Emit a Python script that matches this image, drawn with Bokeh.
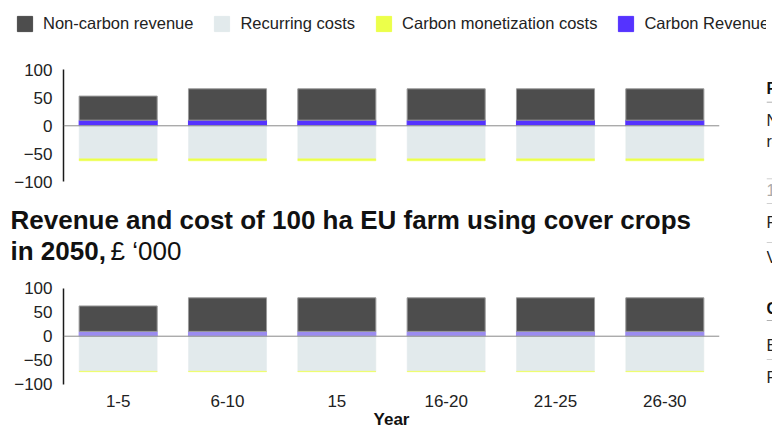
from bokeh.plotting import figure
from bokeh.models import (ColumnDataSource, FactorRange, Range1d, FixedTicker, Span,
                          Legend, LegendItem)
from bokeh.layouts import column, row
from bokeh.embed import file_html
from bokeh.resources import INLINE
from bokeh.core.properties import value

# ---------------- data ----------------
years = ["1-5", "6-10", "15", "16-20", "21-25", "26-30"]
series_names = ["Non-carbon revenue", "Recurring costs", "Carbon monetization costs", "Carbon Revenue"]

# upper chart, £ '000
top_noncarbon = [43, 56, 56, 56, 56, 56]
top_carbon_rev = [10, 10, 10, 10, 10, 10]
top_recurring = [-59, -59, -59, -59, -59, -59]
top_carbon_mon = [-3.5, -3.5, -3.5, -3.5, -3.5, -3.5]

# lower chart (2050), £ '000
bot_noncarbon = [53, 70, 70, 70, 70, 70]
bot_carbon_rev = [10, 10, 10, 10, 10, 10]
bot_recurring = [-73, -73, -73, -73, -73, -73]
bot_carbon_mon = [-1, -1, -1, -1, -1, -1]

y_ticks = [-100, -50, 0, 50, 100]
title_line1 = "Revenue and cost of 100 ha EU farm using cover crops"
title_line2_bold = "in 2050,"
title_unit = "£ ‘000"
x_title = "Year"

# side table (cut off by the page edge)
table_headers = ["Financials", "Carbon"]
table_rows = ["Non-carbon", "revenue", "Fertiliser", "Variable", "EU ETS", "Fees"]
table_note = ["100 ha farm"]

# ---------------- style ----------------
FONT = "Liberation Sans"
C_NONCARBON = "#4d4d4d"
C_RECUR = "#e2eaec"
C_MON_TOP = "#ecff4a"
C_REV_TOP = "#5533ff"
C_MON_BOT = "#eeff55"
C_REV_BOT = "#9b8cf0"
W_MAIN = 766
BAR_W = 0.714


def no_align(p):
    if "frame_align" in p.properties():
        p.frame_align = False


def blank_fig(width, height):
    p = figure(width=width, height=height, x_range=Range1d(0, width), y_range=Range1d(height, 0),
               x_axis_location=None, y_axis_location=None, output_backend="svg",
               toolbar_location=None, min_border_left=0, min_border_right=0,
               min_border_top=0, min_border_bottom=0, outline_line_color=None,
               background_fill_color="white", border_fill_color="white")
    p.xgrid.grid_line_color = None
    p.ygrid.grid_line_color = None
    no_align(p)
    return p


def make_chart(height, y_start, y_end, top_border, bottom_border, show_x):
    p = figure(width=W_MAIN, height=height,
               x_range=FactorRange(factors=years), y_range=Range1d(y_start, y_end),
               x_axis_location="below" if show_x else None, y_axis_location="left",
               output_backend="svg", toolbar_location=None,
               min_border_left=63, min_border_right=47, min_border_top=top_border,
               min_border_bottom=bottom_border, outline_line_color=None,
               background_fill_color="white", border_fill_color="white")
    p.xgrid.grid_line_color = None
    p.ygrid.grid_line_color = None
    ax = p.yaxis[0]
    ax.ticker = FixedTicker(ticks=y_ticks)
    ax.bounds = (-100, 100)
    ax.major_tick_line_color = None
    ax.minor_tick_line_color = None
    ax.major_tick_out = 0
    ax.major_tick_in = 0
    ax.axis_line_color = "#1a1a1a"
    ax.axis_line_width = 1.5
    ax.major_label_text_font = FONT
    ax.major_label_text_font_size = "17px"
    ax.major_label_text_color = "#222222"
    ax.major_label_standoff = 11
    if show_x:
        xa = p.xaxis[0]
        xa.axis_line_color = None
        xa.major_tick_line_color = None
        xa.minor_tick_line_color = None
        xa.major_tick_out = 0
        xa.major_tick_in = 0
        xa.major_label_text_font = FONT
        xa.major_label_text_font_size = "17px"
        xa.major_label_text_color = "#222222"
        xa.major_label_standoff = 10
        xa.axis_label = x_title
        xa.axis_label_text_font = FONT
        xa.axis_label_text_font_size = "17px"
        xa.axis_label_text_font_style = "bold"
        xa.axis_label_text_color = "#111111"
        xa.axis_label_standoff = 0
    return p


def add_bars(p, noncarbon, carbon_rev, recurring, carbon_mon, c_rev, c_mon):
    src = ColumnDataSource(dict(year=years, noncarbon=noncarbon, carbon_rev=carbon_rev,
                                recurring=recurring, carbon_mon=carbon_mon))
    p.vbar_stack(["carbon_rev", "noncarbon"], x="year", width=BAR_W, source=src,
                 fill_color=[c_rev, C_NONCARBON], line_color=[c_rev, "#9a9a9a"], line_width=1)
    p.vbar_stack(["recurring", "carbon_mon"], x="year", width=BAR_W, source=src,
                 fill_color=[C_RECUR, c_mon], line_color=[C_RECUR, c_mon], line_width=0.5)
    p.add_layout(Span(location=0, dimension="width", line_color="#8a8a8a", line_width=1))


# ---------------- legend strip ----------------
pL = blank_fig(W_MAIN, 50)
legend_colors = [C_NONCARBON, C_RECUR, C_MON_TOP, C_REV_TOP]
items = []
for name, col in zip(series_names, legend_colors):
    # legend-only renderer: a single undefined (NaN) bar that is never drawn
    r = pL.vbar(x=[float("nan")], top=[float("nan")], width=1, fill_color=col, line_color=col)
    items.append(LegendItem(label=name, renderers=[r]))
pL.add_layout(Legend(items=items, orientation="horizontal", location=(15, 17),
                     glyph_width=19, glyph_height=19, label_standoff=9, spacing=19,
                     padding=0, margin=0, border_line_color=None, background_fill_alpha=0,
                     label_text_font=FONT, label_text_font_size="16.5px",
                     label_text_color="#222222", label_height=19))

# ---------------- upper chart ----------------
pA = make_chart(145, -101.25, 100.5, 19, 13, False)
add_bars(pA, top_noncarbon, top_carbon_rev, top_recurring, top_carbon_mon, C_REV_TOP, C_MON_TOP)

# ---------------- title strip ----------------
pH = blank_fig(W_MAIN, 72)
pH.text(x=[10, 10], y=[24, 55.5], text=[title_line1, title_line2_bold], text_font=value(FONT),
        text_font_size=value("26px"), text_font_style="bold", text_color="#111111",
        text_baseline="middle")
pH.text(x=[110], y=[55.5], text=[title_unit], text_font=value(FONT),
        text_font_size=value("26px"), text_font_style="normal", text_color="#111111",
        text_baseline="middle")

# ---------------- lower chart ----------------
pB = make_chart(165, -100.6, 101.46, 20, 48, True)
add_bars(pB, bot_noncarbon, bot_carbon_rev, bot_recurring, bot_carbon_mon, C_REV_BOT, C_MON_BOT)

# ---------------- side table (mostly beyond the window edge) ----------------
pT = blank_fig(6, 432)
pT.text(x=[0, 0], y=[87.5, 308], text=table_headers, text_font=value(FONT),
        text_font_size=value("16px"), text_font_style="bold", text_color="#111111",
        text_baseline="middle")
pT.text(x=[0] * 6, y=[120, 141, 222, 257, 345, 377], text=table_rows,
        text_font=value(FONT), text_font_size=value("16px"), text_color="#222222",
        text_baseline="middle")
pT.text(x=[0], y=[190], text=table_note, text_font=value(FONT),
        text_font_size=value("16px"), text_color="#aaaaaa", text_baseline="middle")
pT.segment(x0=[0, 0], x1=[6, 6], y0=[101.7, 320], y1=[101.7, 320], line_color="#b0b0b0", line_width=1)
pT.segment(x0=[0] * 4, x1=[6] * 4, y0=[178.3, 203, 242, 359], y1=[178.3, 203, 242, 359],
           line_color="#d0d0d0", line_width=1)

layout = row(column(pL, pA, pH, pB), pT)
open("out.html", "w").write(file_html(layout, INLINE))
